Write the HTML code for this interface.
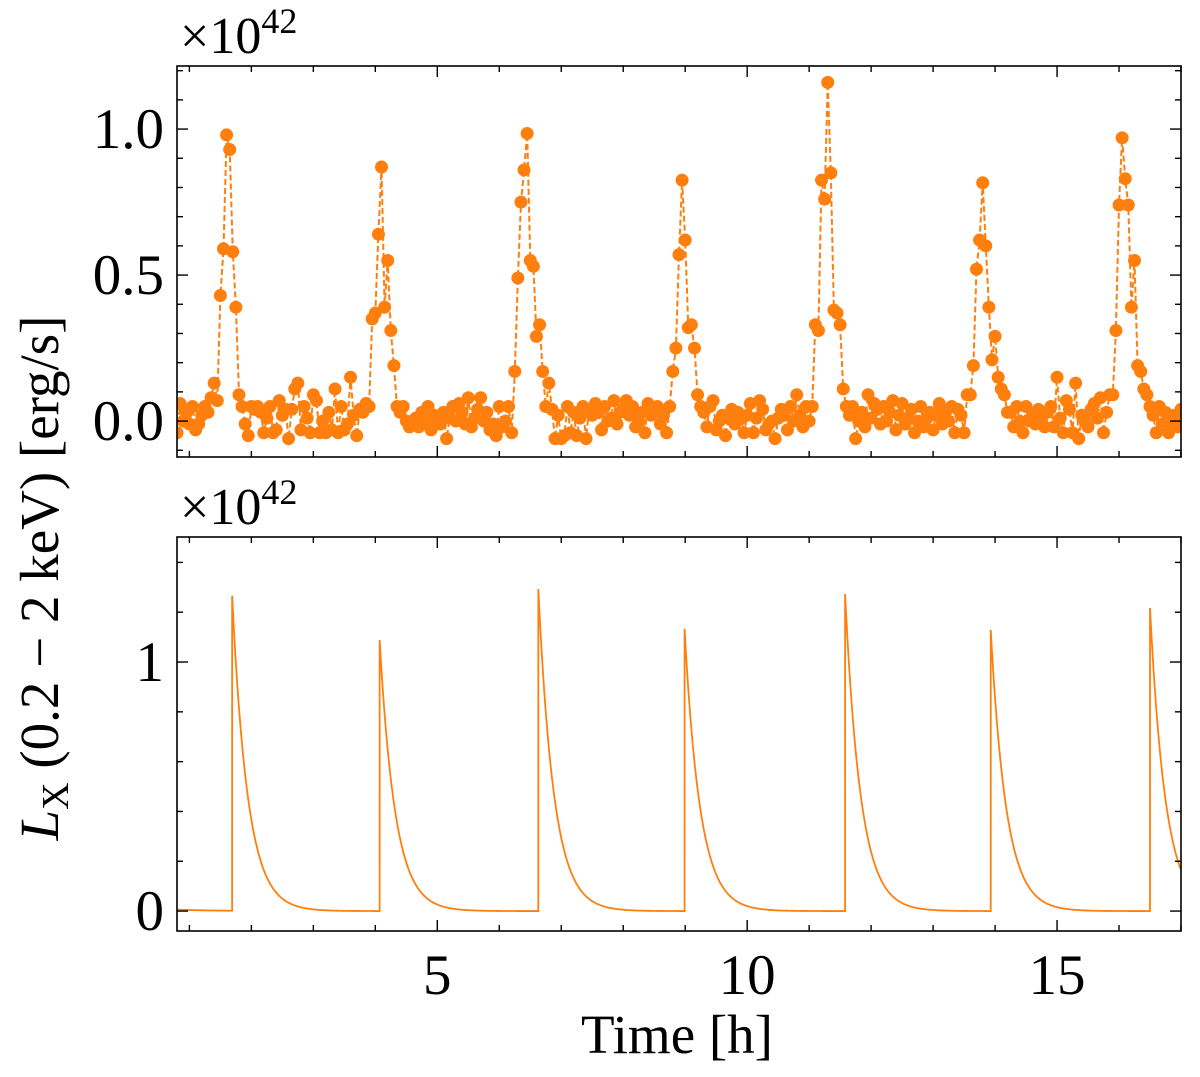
<!DOCTYPE html>
<html><head><meta charset="utf-8">
<style>
html,body{margin:0;padding:0;background:#fff;}
svg{display:block;font-family:"Liberation Serif","DejaVu Serif",serif;}
</style></head>
<body>
<svg id="chart" width="1200" height="1077" viewBox="0 0 1200 1077" xmlns="http://www.w3.org/2000/svg">
<g id="top"></g>
<g id="bot"></g>
<text transform="translate(58,578) rotate(-90)" text-anchor="middle" font-size="55"><tspan font-style="italic">L</tspan><tspan font-size="38" dy="10">X</tspan><tspan dy="-10"> (0.2 − 2 keV) [erg/s]</tspan></text>
<text x="677" y="1053" text-anchor="middle" font-size="55">Time [h]</text>
</svg>
<script>
// ---- data ----
const obsStart = 0.8;
const obsStep = 0.05;
const obsValues = [
-0.04,0.06,0.00,0.03,-0.01,0.05,-0.03,-0.01,0.02,0.05,0.03,0.08,
0.13,0.07,0.43,0.59,0.98,0.93,0.58,0.39,0.09,0.05,-0.01,-0.05,
0.05,0.04,0.05,0.03,-0.04,0.01,0.05,-0.04,-0.03,0.07,0.02,0.04,-0.06,0.04,0.11,0.13,-0.03,0.05,0.01,-0.04,0.09,0.07,-0.04,0.00,-0.04,0.03,-0.03,0.11,-0.04,0.05,-0.03,-0.01,0.15,0.02,-0.05,0.04,0.03,0.06,
0.05,0.35,0.37,0.64,0.87,0.39,0.55,0.31,0.19,0.05,0.03,
0.05,0.00,-0.02,0.00,0.01,-0.02,0.03,0.00,0.05,-0.03,0.02,0.00,-0.01,0.03,-0.06,0.01,0.05,0.00,0.06,0.03,-0.01,0.08,-0.02,0.01,0.04,0.08,0.00,0.03,-0.03,-0.01,-0.05,0.05,-0.02,0.00,0.05,-0.04,
0.17,0.49,0.75,0.86,0.985,0.55,0.53,0.29,0.33,0.17,0.05,0.13,
0.04,-0.06,0.02,-0.06,-0.05,0.05,-0.04,0.03,-0.05,0.01,0.05,-0.06,0.04,0.02,0.06,0.03,-0.03,0.05,0.00,0.01,0.07,-0.01,0.03,0.04,0.07,0.02,0.05,-0.02,0.00,0.03,-0.04,0.06,0.02,0.04,0.05,-0.01,0.02,-0.04,
0.05,0.17,0.25,0.57,0.825,0.62,0.32,0.33,0.25,0.09,0.05,
0.03,-0.02,0.05,0.07,-0.03,0.00,0.02,-0.05,0.01,0.04,-0.01,0.03,0.01,-0.04,0.02,0.06,-0.04,0.01,0.07,0.04,-0.03,-0.01,0.00,-0.06,0.01,0.04,0.02,-0.03,0.05,0.00,0.09,0.02,-0.02,0.05,0.00,
0.05,0.33,0.31,0.825,0.76,1.16,0.85,0.38,0.37,0.33,0.11,0.05,
0.02,0.05,-0.06,0.00,0.03,-0.02,0.09,0.01,0.06,0.04,-0.01,0.05,0.00,0.03,0.07,-0.03,0.02,0.06,-0.01,0.01,0.04,-0.04,0.00,0.05,-0.02,0.01,0.03,-0.03,0.02,0.06,-0.01,0.03,0.00,0.05,-0.04,0.04,0.02,-0.04,0.09,
0.09,0.19,0.52,0.62,0.816,0.60,0.39,0.21,0.29,0.15,0.11,0.09,0.03,
0.03,-0.02,0.05,0.00,-0.04,0.05,0.00,0.02,-0.01,0.04,0.00,-0.02,0.03,0.05,-0.02,0.15,0.01,-0.04,0.07,0.04,-0.04,0.13,-0.06,0.02,0.00,-0.02,0.04,0.06,0.01,0.08,-0.04,0.03,0.09,
0.09,0.31,0.74,0.97,0.83,0.74,0.39,0.55,0.19,0.17,0.11,0.09,
0.05,0.02,-0.04,0.05,-0.01,0.03,-0.04,0.00,0.02,-0.02,0.04
];
const flareTimes = [1.66, 4.04, 6.60, 8.96, 11.55, 13.90, 16.47];
const flarePeaks = [1.265, 1.088, 1.293, 1.133, 1.273, 1.129, 1.217];
const decayTime = 0.25;
const topYTicks = ["0.0","0.5","1.0"];
const botYTicks = ["0","1"];
const xTickLabels = ["5","10","15"];

// ---- layout ----
const NS="http://www.w3.org/2000/svg";
const X0=177, X1=1181, T0=0.8, T1=17.0;
const sx=t=>X0+(t-T0)/(T1-T0)*(X1-X0);
const topAx={y0:66,y1:457,v0:-0.123,v1:1.216};
const botAx={y0:537,y1:931,v0:-0.08,v1:1.502};
const sy=(ax,v)=>ax.y1-(v-ax.v0)/(ax.v1-ax.v0)*(ax.y1-ax.y0);
function el(tag,attrs,parent){const e=document.createElementNS(NS,tag);for(const k in attrs)e.setAttribute(k,attrs[k]);parent.appendChild(e);return e;}

function axes(g,ax,major,minor,labels,showX){
  const frame=el('rect',{x:X0,y:ax.y0,width:X1-X0,height:ax.y1-ax.y0,fill:'none',stroke:'#000','stroke-width':1.6},g);
  
  
  for(let h=1;h<=17;h++){
    const x=sx(h); if(x<X0||x>X1) continue;
    const L=(h%5===0)?11:6;
    el('line',{x1:x,x2:x,y1:ax.y1,y2:ax.y1-L,stroke:'#000','stroke-width':1.4},g);
    el('line',{x1:x,x2:x,y1:ax.y0,y2:ax.y0+L,stroke:'#000','stroke-width':1.4},g);
  }
  for(let v=Math.ceil(ax.v0/minor)*minor; v<=ax.v1+1e-9; v+=minor){
    const vv=Math.round(v/minor)*minor;
    const isMaj=Math.abs(vv/major-Math.round(vv/major))<1e-6;
    const y=sy(ax,vv), L=isMaj?11:6;
    el('line',{x1:X0,x2:X0+L,y1:y,y2:y,stroke:'#000','stroke-width':1.4},g);
    el('line',{x1:X1,x2:X1-L,y1:y,y2:y,stroke:'#000','stroke-width':1.4},g);
  }
  labels.forEach(s=>{
    const t=el('text',{x:164,y:sy(ax,parseFloat(s))+19,'text-anchor':'end','font-size':57},g);
    t.textContent=s;
    
    
  });
  const m=el('text',{x:180,y:ax.y0-13,'font-size':52},g);
  
  
  m.innerHTML='×10<tspan font-size="36" dy="-20">42</tspan>';
  if(showX){
    xTickLabels.forEach(s=>{
      const t=el('text',{x:sx(parseFloat(s)),y:ax.y1+63,'text-anchor':'middle','font-size':57},g);
      t.textContent=s;
      
      
    });
  }
}

const gt=document.getElementById('top'), gb=document.getElementById('bot');
const cpt=el('clipPath',{id:'ct'},gt);
el('rect',{x:X0,y:topAx.y0,width:X1-X0,height:topAx.y1-topAx.y0},cpt);
const cpb=el('clipPath',{id:'cb'},gb);
el('rect',{x:X0,y:botAx.y0,width:X1-X0,height:botAx.y1-botAx.y0},cpb);

// top series
const tg=el('g',{'clip-path':'url(#ct)'},gt);
let d='';
obsValues.forEach((v,i)=>{const t=obsStart+i*obsStep;d+=(i?'L':'M')+sx(t).toFixed(1)+' '+sy(topAx,v).toFixed(1);});
const line=el('path',{d:d,fill:'none',stroke:'#ff7f0e','stroke-width':2,'stroke-dasharray':'6,3'},tg);


obsValues.forEach((v,i)=>{
  const t=obsStart+i*obsStep;
  const c=el('circle',{cx:sx(t),cy:sy(topAx,v),r:6.5,fill:'#ff7f0e'},tg);
  
  
});
axes(gt,topAx,0.5,0.1,topYTicks,false);

// bottom series
const bg=el('g',{'clip-path':'url(#cb)'},gb);
function model(t){
  let v=0.006*Math.exp(-(t-T0)/0.6);
  flareTimes.forEach((tf,k)=>{ if(t>=tf+0.03) v+=flarePeaks[k]*Math.exp(-(t-tf-0.03)/decayTime); });
  return v;
}
let pts=[];
for(let x=X0;x<=X1;x+=1){pts.push((x-X0)/(X1-X0)*(T1-T0)+T0);}
flareTimes.forEach(tf=>{pts.push(tf,tf+0.0299,tf+0.03);});
pts.sort((a,b)=>a-b);
let d2='';
pts.forEach((t,i)=>{
  let v=model(t);
  if(flareTimes.some(tf=>Math.abs(t-(tf+0.0299))<1e-6)) v=model(t-0.0299);
  d2+=(i?'L':'M')+sx(t).toFixed(2)+' '+sy(botAx,v).toFixed(2);
});
const ml=el('path',{d:d2,fill:'none',stroke:'#ff7f0e','stroke-width':1.8},bg);


axes(gb,botAx,1,0.2,botYTicks,true);
</script>
</body></html>
